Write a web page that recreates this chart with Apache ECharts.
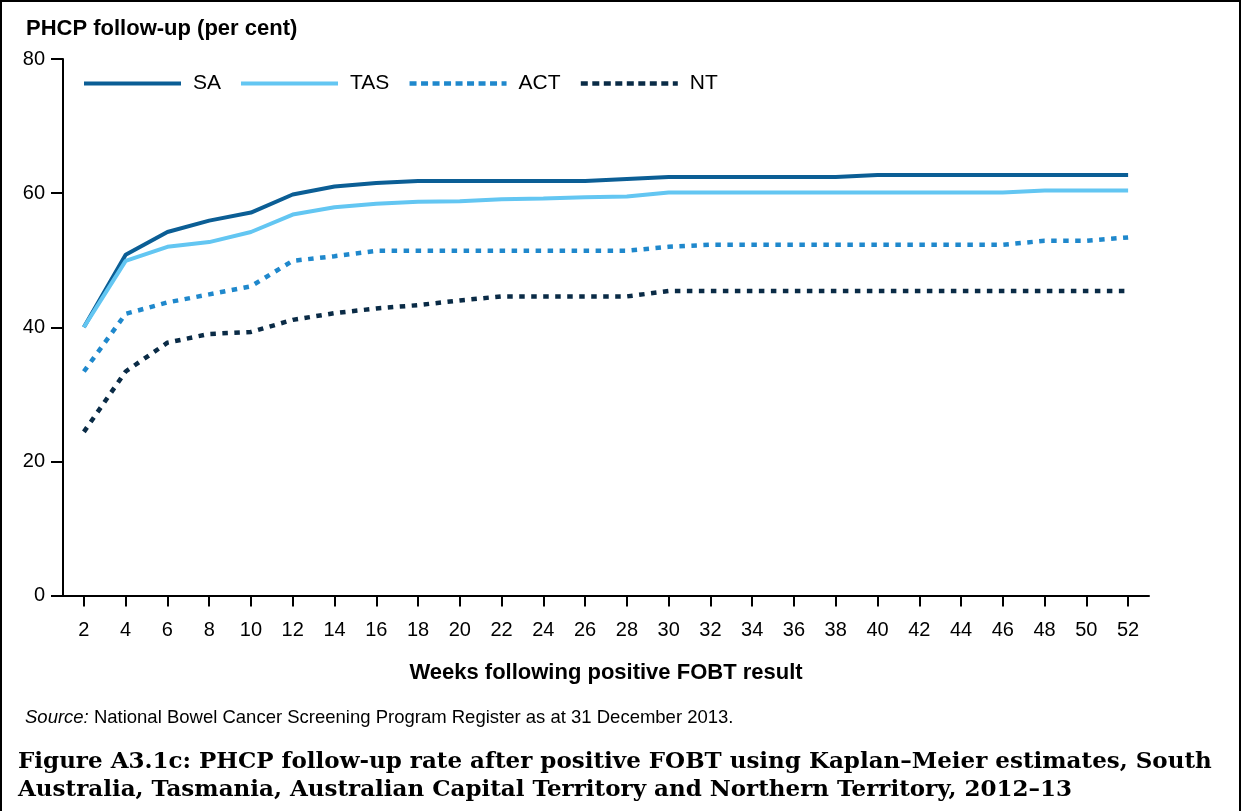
<!DOCTYPE html>
<html>
<head>
<meta charset="utf-8">
<script src="https://cdn.jsdelivr.net/npm/echarts@6/dist/echarts.min.js"></script>
<style>
  html, body { margin: 0; padding: 0; background: #fff; }
  #chart { width: 1242px; height: 811px; }
</style>
</head>
<body>
<div id="chart"></div>
<script>
// weeks after positive FOBT result
var weeks = [2, 4, 6, 8, 10, 12, 14, 16, 18, 20, 22, 24, 26, 28, 30, 32, 34, 36, 38, 40, 42, 44, 46, 48, 50, 52];

// PHCP follow-up (per cent)
var sa  = [40.0, 50.8, 54.2, 55.9, 57.1, 59.8, 61.0, 61.5, 61.8, 61.8, 61.8, 61.8, 61.8, 62.1, 62.4, 62.4, 62.4, 62.4, 62.4, 62.7, 62.7, 62.7, 62.7, 62.7, 62.7, 62.7];
var tas = [40.0, 49.9, 52.0, 52.7, 54.2, 56.8, 57.9, 58.4, 58.7, 58.8, 59.1, 59.2, 59.4, 59.5, 60.1, 60.1, 60.1, 60.1, 60.1, 60.1, 60.1, 60.1, 60.1, 60.4, 60.4, 60.4];
var act = [33.4, 42.0, 43.7, 44.9, 46.1, 49.9, 50.6, 51.4, 51.4, 51.4, 51.4, 51.4, 51.4, 51.4, 52.0, 52.3, 52.3, 52.3, 52.3, 52.3, 52.3, 52.3, 52.3, 52.9, 52.9, 53.4];
var nt  = [24.4, 33.4, 37.7, 39.0, 39.3, 41.1, 42.1, 42.8, 43.3, 44.0, 44.6, 44.6, 44.6, 44.6, 45.4, 45.4, 45.4, 45.4, 45.4, 45.4, 45.4, 45.4, 45.4, 45.4, 45.4, 45.4];

var yTicks = [0, 20, 40, 60, 80];

var SANS = "'Liberation Sans', Arial, sans-serif";
var SERIF = "'DejaVu Serif', 'Liberation Serif', serif";

var colors = { SA: "#0b5e95", TAS: "#63c6f2", ACT: "#1f88cc", NT: "#0a2b46" };
var DOTS = [5.5, 6.5];

var chart = echarts.init(document.getElementById("chart"));

function lineSeries(name, data, dashed) {
  return {
    name: name,
    type: "line",
    data: data,
    symbol: "none",
    showSymbol: false,
    smooth: false,
    lineStyle: {
      color: colors[name],
      width: dashed ? 4.5 : 4,
      type: dashed ? DOTS : "solid",
      cap: "butt"
    },
    itemStyle: { color: colors[name] }
  };
}

function legendItem(name, dashed) {
  return {
    name: name,
    itemStyle: { opacity: 0 },
    lineStyle: { color: colors[name], width: dashed ? 4.5 : 4, type: dashed ? [7, 4.5] : "solid", cap: "butt" }
  };
}

var option = {
  animation: false,
  backgroundColor: "#fff",
  textStyle: { fontFamily: SANS, color: "#000" },
  grid: { left: 63, right: 93, top: 59, bottom: 215.5, containLabel: false },
  legend: {
    left: 82,
    top: 73,
    padding: 0,
    itemWidth: 97,
    itemHeight: 20,
    itemGap: 18,
    data: [legendItem("SA", false), legendItem("TAS", false), legendItem("ACT", true), legendItem("NT", true)],
    textStyle: { fontSize: 21, color: "#000", fontFamily: SANS, padding: [0, 0, 0, 7] }
  },
  xAxis: {
    type: "category",
    data: weeks,
    boundaryGap: true,
    name: "Weeks following positive FOBT result",
    nameLocation: "middle",
    nameGap: 66,
    nameTextStyle: { fontSize: 22, fontWeight: "bold", color: "#000", fontFamily: SANS },
    axisLine: { show: true, lineStyle: { color: "#000", width: 2 } },
    axisTick: { show: true, alignWithLabel: true, length: 11, interval: 0, lineStyle: { color: "#000", width: 2 } },
    axisLabel: { interval: 0, fontSize: 20, color: "#000", margin: 25, fontFamily: SANS },
    splitLine: { show: false }
  },
  yAxis: {
    type: "value",
    min: yTicks[0],
    max: yTicks[yTicks.length - 1],
    interval: 20,
    axisLine: { show: true, lineStyle: { color: "#000", width: 2 } },
    axisTick: { show: true, length: 12, lineStyle: { color: "#000", width: 2 } },
    axisLabel: { fontSize: 20, color: "#000", margin: 18, fontFamily: SANS },
    splitLine: { show: false }
  },
  series: [
    lineSeries("SA", sa, false),
    lineSeries("TAS", tas, false),
    lineSeries("ACT", act, true),
    lineSeries("NT", nt, true)
  ],
  graphic: [
    // frame round the figure
    { type: "line", shape: { x1: 1, y1: 1, x2: 1241, y2: 1 }, style: { stroke: "#000", lineWidth: 2 }, silent: true },
    { type: "line", shape: { x1: 1, y1: 0, x2: 1, y2: 811 }, style: { stroke: "#000", lineWidth: 2 }, silent: true },
    { type: "line", shape: { x1: 1240, y1: 0, x2: 1240, y2: 811 }, style: { stroke: "#000", lineWidth: 2 }, silent: true },
    {
      type: "text", left: 26, top: 18, silent: true,
      style: { text: "PHCP follow-up (per cent)", fontSize: 22, fontWeight: "bold", fill: "#000", fontFamily: SANS }
    },
    {
      type: "text", left: 25, top: 708, silent: true,
      style: {
        text: "{i|Source:} National Bowel Cancer Screening Program Register as at 31 December 2013.",
        fontSize: 18.5, fill: "#000", fontFamily: SANS,
        rich: { i: { fontStyle: "italic", fontSize: 18.5, fontFamily: SANS, fill: "#000" } }
      }
    },
    {
      type: "text", left: 18, top: 748, silent: true,
      style: {
        text: "Figure A3.1c: PHCP follow-up rate after positive FOBT using Kaplan\u2013Meier estimates, South\nAustralia, Tasmania, Australian Capital Territory and Northern Territory, 2012\u201313",
        fontSize: 23, fontWeight: "bold", fill: "#000", fontFamily: SERIF, lineHeight: 28
      }
    }
  ]
};

chart.setOption(option);
</script>
</body>
</html>
